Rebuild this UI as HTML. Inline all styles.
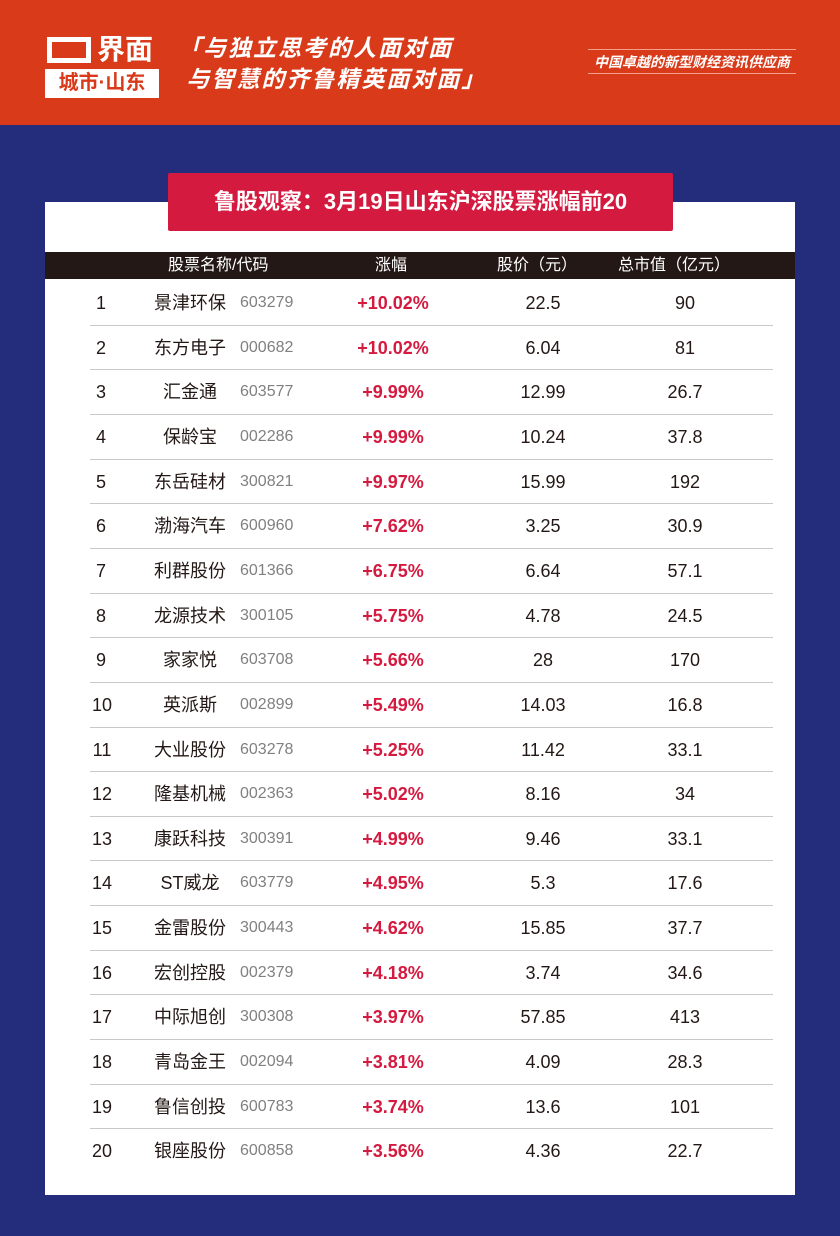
<!DOCTYPE html>
<html><head><meta charset="utf-8"><style>
*{margin:0;padding:0;box-sizing:border-box}
body{width:840px;height:1236px;background:#242d7c;position:relative;overflow:hidden;font-family:"Liberation Sans","Noto Sans CJK SC",sans-serif}
.top{position:absolute;left:0;top:0;width:840px;height:125px;background:#d83a1a}
.logo{position:absolute;left:45px;top:33px;width:114px;height:64px}
.logo .a{position:absolute;left:0;top:0;width:114px;height:34px;color:#fff;font-size:28px;font-weight:bold;line-height:34px;padding-left:52px}
.logo .box{position:absolute;left:2px;top:4px;width:44px;height:26px;border:5px solid #fff}
.logo .b{position:absolute;left:0;top:36px;width:114px;height:29px;background:#fff;color:#d83a1a;font-size:20px;font-weight:bold;text-align:center;line-height:29px}
.slogan{position:absolute;left:178px;top:33px;color:#fff;font-size:23px;font-weight:bold;font-style:italic;line-height:31px;letter-spacing:2px}
.sub{position:absolute;left:588px;top:49px;width:208px;border-top:1px solid #f3a08c;border-bottom:1px solid #f3a08c;color:#fff;font-size:14px;font-weight:bold;font-style:italic;text-align:center;line-height:22px;height:25px;padding-top:1px;white-space:nowrap}
.panel{position:absolute;left:45px;top:202px;width:750px;height:993px;background:#fff}
.title{position:absolute;left:168px;top:173px;width:505px;height:58px;background:#d51a40;color:#fff;font-size:22px;font-weight:bold;text-align:center;line-height:58px;border-radius:2px}
.thead{position:absolute;left:45px;top:252px;width:750px;height:27px;background:#231815;color:#fff;font-size:16px;line-height:27px}
.thead span,.row span{position:absolute;top:0;white-space:nowrap}
.row{position:absolute;left:0;width:840px;height:44.6px;font-size:18px;color:#231815}
.row .line{position:absolute;left:90px;width:683px;top:0;height:1px;background:#c8c8c8}
.c{transform:translateX(-50%)}
.pct{color:#d51a40;font-weight:bold}
.code{color:#808080;font-size:16px;line-height:46px}
</style></head><body>
<div class="top">
 <div class="logo"><div class="box"></div><div class="a">界面</div><div class="b">城市·山东</div></div>
 <div class="slogan">「与独立思考的人面对面<br>&nbsp;与智慧的齐鲁精英面对面」</div>
 <div class="sub">中国卓越的新型财经资讯供应商</div>
</div>
<div class="panel"></div>
<div class="title">鲁股观察：3月19日山东沪深股票涨幅前20</div>
<div class="thead">
 <span style="left:123px">股票名称/代码</span>
 <span style="left:330px">涨幅</span>
 <span style="left:452px">股价（元）</span>
 <span style="left:573px">总市值（亿元）</span>
</div>
<div id="rows"></div>
<script>
var d=[["景津环保","603279","+10.02%","22.5","90"],["东方电子","000682","+10.02%","6.04","81"],["汇金通","603577","+9.99%","12.99","26.7"],["保龄宝","002286","+9.99%","10.24","37.8"],["东岳硅材","300821","+9.97%","15.99","192"],["渤海汽车","600960","+7.62%","3.25","30.9"],["利群股份","601366","+6.75%","6.64","57.1"],["龙源技术","300105","+5.75%","4.78","24.5"],["家家悦","603708","+5.66%","28","170"],["英派斯","002899","+5.49%","14.03","16.8"],["大业股份","603278","+5.25%","11.42","33.1"],["隆基机械","002363","+5.02%","8.16","34"],["康跃科技","300391","+4.99%","9.46","33.1"],["ST威龙","603779","+4.95%","5.3","17.6"],["金雷股份","300443","+4.62%","15.85","37.7"],["宏创控股","002379","+4.18%","3.74","34.6"],["中际旭创","300308","+3.97%","57.85","413"],["青岛金王","002094","+3.81%","4.09","28.3"],["鲁信创投","600783","+3.74%","13.6","101"],["银座股份","600858","+3.56%","4.36","22.7"]];
var h="";
for(var i=0;i<20;i++){var r=d[i],t=280+i*44.65;
h+='<div class="row" style="top:'+t+'px;line-height:46px">'+(i?'<div class="line"></div>':'')+
'<span class="c" style="left:'+(i<9?101:102)+'px">'+(i+1)+'</span>'+
'<span class="c" style="left:190px">'+r[0]+'</span>'+
'<span class="code" style="left:240px">'+r[1]+'</span>'+
'<span class="c pct" style="left:393px">'+r[2]+'</span>'+
'<span class="c" style="left:543px">'+r[3]+'</span>'+
'<span class="c" style="left:685px">'+r[4]+'</span></div>';}
document.getElementById("rows").innerHTML=h;
</script>
</body></html>
